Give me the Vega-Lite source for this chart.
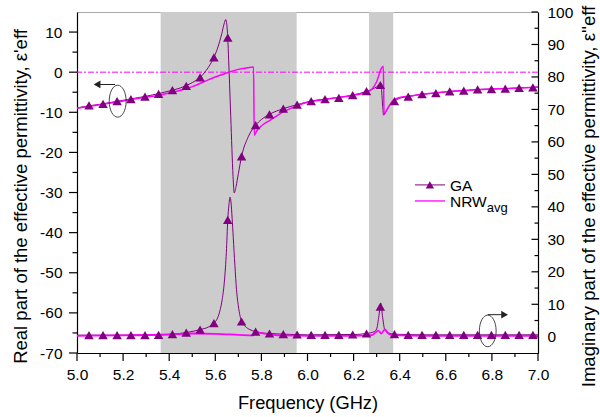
{
"$schema": "https://vega.github.io/schema/vega-lite/v6.json",
"width": 461, "height": 341,
"autosize": {"type": "none"},
"padding": {"left": 77, "top": 12, "right": 62, "bottom": 64},
"background": "white",
"config": {
 "font": "Liberation Sans",
 "view": {"stroke": "#aaaaaa", "strokeWidth": 1},
 "axis": {"labelFont": "Liberation Sans", "titleFont": "Liberation Sans", "labelColor": "black", "titleColor": "black", "domainColor": "black", "grid": false, "labelFontSize": 15.5, "titleFontSize": 18.5, "titleFontWeight": "normal", "domainWidth": 1.2, "labelOverlap": false, "labelFlush": false, "ticks": false}
},
"datasets": {
 "bands": [{"a": 5.363, "b": 5.953}, {"a": 6.267, "b": 6.372}],
 "xMajor": [{"t":5.0},{"t":5.2},{"t":5.4},{"t":5.6},{"t":5.8},{"t":6.0},{"t":6.2},{"t":6.4},{"t":6.6},{"t":6.8},{"t":7.0}],
 "xMinor": [{"t":5.1},{"t":5.3},{"t":5.5},{"t":5.7},{"t":5.9},{"t":6.1},{"t":6.3},{"t":6.5},{"t":6.7},{"t":6.9}],
 "lMajor": [{"t":-70},{"t":-60},{"t":-50},{"t":-40},{"t":-30},{"t":-20},{"t":-10},{"t":0},{"t":10}],
 "lMinor": [{"t":-65},{"t":-55},{"t":-45},{"t":-35},{"t":-25},{"t":-15},{"t":-5},{"t":5}],
 "rMajor": [{"t":0},{"t":10},{"t":20},{"t":30},{"t":40},{"t":50},{"t":60},{"t":70},{"t":80},{"t":90},{"t":100}],
 "rMinor": [{"t":5},{"t":15},{"t":25},{"t":35},{"t":45},{"t":55},{"t":65},{"t":75},{"t":85},{"t":95}],
 "gaReal": [{"f":5.0,"v":-8.9},{"f":5.05,"v":-8.4},{"f":5.1,"v":-8.0},{"f":5.15,"v":-7.5},{"f":5.2,"v":-7.0},{"f":5.25,"v":-6.5},{"f":5.3,"v":-6.0},{"f":5.35,"v":-5.4},{"f":5.4,"v":-4.7},{"f":5.45,"v":-3.9},{"f":5.5,"v":-2.6},{"f":5.534,"v":-1.3},{"f":5.56,"v":0.4},{"f":5.594,"v":3.7},{"f":5.61,"v":6.0},{"f":5.628,"v":9.6},{"f":5.638,"v":12.0},{"f":5.645,"v":13.1},{"f":5.65,"v":11.8},{"f":5.654,"v":8.6},{"f":5.658,"v":3.0},{"f":5.662,"v":-3.0},{"f":5.667,"v":-11.0},{"f":5.672,"v":-19.0},{"f":5.677,"v":-26.0},{"f":5.682,"v":-30.1},{"f":5.69,"v":-28.5},{"f":5.7,"v":-25.3},{"f":5.714,"v":-21.0},{"f":5.743,"v":-16.1},{"f":5.775,"v":-13.2},{"f":5.8,"v":-11.8},{"f":5.835,"v":-10.5},{"f":5.895,"v":-9.1},{"f":5.955,"v":-8.1},{"f":6.016,"v":-7.2},{"f":6.076,"v":-6.7},{"f":6.136,"v":-6.3},{"f":6.196,"v":-5.7},{"f":6.256,"v":-4.8},{"f":6.29,"v":-4.0},{"f":6.31,"v":-3.2},{"f":6.318,"v":-2.8},{"f":6.322,"v":-5.0},{"f":6.326,"v":-8.5},{"f":6.33,"v":-10.7},{"f":6.34,"v":-9.8},{"f":6.355,"v":-8.3},{"f":6.377,"v":-7.2},{"f":6.4,"v":-6.5},{"f":6.437,"v":-6.1},{"f":6.497,"v":-5.5},{"f":6.557,"v":-5.2},{"f":6.617,"v":-4.8},{"f":6.678,"v":-4.6},{"f":6.738,"v":-4.3},{"f":6.798,"v":-4.2},{"f":6.858,"v":-4.1},{"f":6.918,"v":-3.9},{"f":6.978,"v":-3.8},{"f":7.0,"v":-3.7}],
 "nrwReal": [{"f":5.0,"v":-9.0},{"f":5.1,"v":-8.1},{"f":5.2,"v":-7.2},{"f":5.3,"v":-6.2},{"f":5.35,"v":-5.8},{"f":5.4,"v":-5.2},{"f":5.45,"v":-4.5},{"f":5.5,"v":-3.6},{"f":5.55,"v":-2.4},{"f":5.6,"v":-1.2},{"f":5.65,"v":-0.2},{"f":5.7,"v":0.7},{"f":5.74,"v":1.1},{"f":5.766,"v":1.3},{"f":5.769,"v":-15.7},{"f":5.78,"v":-14.6},{"f":5.8,"v":-13.4},{"f":5.837,"v":-12.0},{"f":5.895,"v":-9.9},{"f":5.953,"v":-8.4},{"f":6.0,"v":-7.5},{"f":6.076,"v":-6.8},{"f":6.136,"v":-6.3},{"f":6.196,"v":-5.8},{"f":6.256,"v":-5.0},{"f":6.28,"v":-4.2},{"f":6.3,"v":-2.4},{"f":6.32,"v":0.9},{"f":6.329,"v":1.5},{"f":6.332,"v":-10.5},{"f":6.345,"v":-9.3},{"f":6.372,"v":-7.0},{"f":6.4,"v":-6.3},{"f":6.437,"v":-6.0},{"f":6.5,"v":-5.5},{"f":6.6,"v":-4.9},{"f":6.7,"v":-4.5},{"f":6.8,"v":-4.2},{"f":6.9,"v":-4.0},{"f":7.0,"v":-3.7}],
 "gaImag": [{"f":5.0,"v":0.5},{"f":5.2,"v":0.5},{"f":5.35,"v":0.6},{"f":5.414,"v":0.8},{"f":5.474,"v":1.3},{"f":5.534,"v":2.2},{"f":5.57,"v":3.0},{"f":5.594,"v":4.2},{"f":5.61,"v":5.8},{"f":5.62,"v":8.0},{"f":5.63,"v":11.5},{"f":5.64,"v":17.5},{"f":5.648,"v":26.0},{"f":5.654,"v":36.0},{"f":5.659,"v":40.5},{"f":5.664,"v":43.0},{"f":5.668,"v":41.5},{"f":5.673,"v":36.5},{"f":5.678,"v":30.5},{"f":5.685,"v":22.0},{"f":5.692,"v":14.5},{"f":5.7,"v":9.5},{"f":5.714,"v":4.7},{"f":5.73,"v":3.2},{"f":5.75,"v":2.2},{"f":5.775,"v":1.6},{"f":5.8,"v":1.2},{"f":5.835,"v":1.0},{"f":5.895,"v":0.8},{"f":6.0,"v":0.6},{"f":6.2,"v":0.7},{"f":6.256,"v":1.0},{"f":6.29,"v":1.6},{"f":6.3,"v":2.4},{"f":6.31,"v":6.5},{"f":6.318,"v":10.4},{"f":6.326,"v":6.0},{"f":6.335,"v":2.2},{"f":6.35,"v":1.2},{"f":6.377,"v":0.8},{"f":6.5,"v":0.6},{"f":7.0,"v":0.6}],
 "nrwImag": [{"f":5.0,"v":0.3},{"f":5.2,"v":0.4},{"f":5.4,"v":0.7},{"f":5.5,"v":1.0},{"f":5.6,"v":0.9},{"f":5.7,"v":0.6},{"f":5.766,"v":0.4},{"f":5.77,"v":1.5},{"f":5.8,"v":1.1},{"f":5.85,"v":0.6},{"f":5.9,"v":0.4},{"f":6.0,"v":0.3},{"f":6.2,"v":0.3},{"f":6.28,"v":0.5},{"f":6.307,"v":1.9},{"f":6.32,"v":1.0},{"f":6.336,"v":2.3},{"f":6.35,"v":1.0},{"f":6.37,"v":0.5},{"f":6.5,"v":0.3},{"f":7.0,"v":0.3}],
 "gaMarks": [{"f":5.052,"re":-8.3,"im":0.5},{"f":5.113,"re":-7.9,"im":0.5},{"f":5.174,"re":-7.2,"im":0.5},{"f":5.234,"re":-6.7,"im":0.5},{"f":5.295,"re":-6.1,"im":0.5},{"f":5.354,"re":-5.4,"im":0.6},{"f":5.414,"re":-4.5,"im":0.8},{"f":5.474,"re":-3.4,"im":1.3},{"f":5.534,"re":-1.3,"im":2.2},{"f":5.594,"re":3.7,"im":4.2},{"f":5.654,"re":8.6,"im":36.0},{"f":5.714,"re":-21.0,"im":4.7},{"f":5.775,"re":-13.2,"im":1.6},{"f":5.835,"re":-10.5,"im":1.0},{"f":5.895,"re":-9.1,"im":0.8},{"f":5.955,"re":-8.1,"im":0.7},{"f":6.016,"re":-7.2,"im":0.6},{"f":6.076,"re":-6.7,"im":0.6},{"f":6.136,"re":-6.4,"im":0.6},{"f":6.196,"re":-5.7,"im":0.7},{"f":6.256,"re":-4.7,"im":1.0},{"f":6.316,"re":-3.2,"im":9.3},{"f":6.377,"re":-7.2,"im":0.8},{"f":6.437,"re":-6.1,"im":0.6},{"f":6.497,"re":-5.5,"im":0.6},{"f":6.557,"re":-5.2,"im":0.6},{"f":6.617,"re":-4.8,"im":0.6},{"f":6.678,"re":-4.6,"im":0.6},{"f":6.738,"re":-4.3,"im":0.6},{"f":6.798,"re":-4.2,"im":0.6},{"f":6.858,"re":-4.1,"im":0.6},{"f":6.918,"re":-3.9,"im":0.6},{"f":6.978,"re":-3.8,"im":0.6}],
 "anchor": [{"f": 5.0, "v": -70, "w": -5}]
},
"layer": [
 {"layer": [
  {"data": {"name": "bands"}, "mark": {"type": "rect", "color": "#cccccc"},
   "encoding": {
    "x": {"field": "a", "type": "quantitative", "scale": {"domain": [5, 7], "nice": false, "zero": false},
     "axis": {"title": "Frequency (GHz)", "values": [5.0,5.2,5.4,5.6,5.8,6.0,6.2,6.4,6.6,6.8,7.0], "format": ".1f",
      "ticks": false, "labelPadding": 14, "titleY": 55, "titleBaseline": "alphabetic", "titleFontSize": 18.3, "labelOverlap": false}},
    "x2": {"field": "b"}}},
  {"data": {"values": [{"v": 0}]}, "mark": {"type": "rule", "color": "#ff00ff", "strokeWidth": 1, "strokeDash": [6, 2, 2, 2]},
   "encoding": {"y": {"field": "v", "type": "quantitative", "scale": {"domain": [-70, 15], "nice": false, "zero": false},
     "axis": {"title": "Real part of the effective permittivity, ε'eff", "values": [-70,-60,-50,-40,-30,-20,-10,0,10],
      "labelExpr": "''+datum.value", "ticks": false, "labelPadding": 15, "labelOverlap": false,
      "titleX": -57, "titleY": 184, "titleAngle": 270, "titleAlign": "center", "titleBaseline": "middle"}}}},
  {"data": {"name": "xMajor"}, "mark": {"type": "point", "shape": "stroke", "angle": 90, "filled": false, "color": "black", "strokeWidth": 1.2, "size": 64, "yOffset": 4, "opacity": 1},
   "encoding": {"x": {"field": "t", "type": "quantitative", "scale": {"domain": [5, 7], "nice": false, "zero": false}},
    "y": {"datum": -70, "type": "quantitative", "scale": {"domain": [-70, 15], "nice": false, "zero": false}}}},
  {"data": {"name": "xMinor"}, "mark": {"type": "point", "shape": "stroke", "angle": 90, "filled": false, "color": "black", "strokeWidth": 1.2, "size": 16, "yOffset": 2, "opacity": 1},
   "encoding": {"x": {"field": "t", "type": "quantitative", "scale": {"domain": [5, 7], "nice": false, "zero": false}},
    "y": {"datum": -70, "type": "quantitative", "scale": {"domain": [-70, 15], "nice": false, "zero": false}}}},
  {"data": {"name": "lMajor"}, "mark": {"type": "tick", "orient": "horizontal", "color": "black", "size": 8, "thickness": 1.2, "xOffset": -4, "opacity": 1},
   "encoding": {"y": {"field": "t", "type": "quantitative", "scale": {"domain": [-70, 15], "nice": false, "zero": false}},
    "x": {"datum": 5.0, "type": "quantitative", "scale": {"domain": [5, 7], "nice": false, "zero": false}}}},
  {"data": {"name": "lMinor"}, "mark": {"type": "tick", "orient": "horizontal", "color": "black", "size": 4.5, "thickness": 1.2, "xOffset": -2.25, "opacity": 1},
   "encoding": {"y": {"field": "t", "type": "quantitative", "scale": {"domain": [-70, 15], "nice": false, "zero": false}},
    "x": {"datum": 5.0, "type": "quantitative", "scale": {"domain": [5, 7], "nice": false, "zero": false}}}},
  {"data": {"name": "gaReal"}, "mark": {"type": "line", "color": "#800080", "strokeWidth": 1, "interpolate": "monotone"},
   "encoding": {"x": {"field": "f", "type": "quantitative", "scale": {"domain": [5, 7], "nice": false, "zero": false}},
    "y": {"field": "v", "type": "quantitative", "scale": {"domain": [-70, 15], "nice": false, "zero": false}}}},
  {"data": {"name": "nrwReal"}, "mark": {"type": "line", "color": "#ff00ff", "strokeWidth": 1.5, "interpolate": "monotone"},
   "encoding": {"x": {"field": "f", "type": "quantitative", "scale": {"domain": [5, 7], "nice": false, "zero": false}},
    "y": {"field": "v", "type": "quantitative", "scale": {"domain": [-70, 15], "nice": false, "zero": false}}}},
  {"data": {"name": "gaMarks"}, "mark": {"type": "point", "shape": "triangle-up", "filled": true, "color": "#800080", "opacity": 1, "size": 90},
   "encoding": {"x": {"field": "f", "type": "quantitative", "scale": {"domain": [5, 7], "nice": false, "zero": false}},
    "y": {"field": "re", "type": "quantitative", "scale": {"domain": [-70, 15], "nice": false, "zero": false}}}},
  {"data": {"values": [{"f": 5.1765, "v": -7.23}]}, "mark": {"type": "point", "shape": "M0,-1A0.53,1,0,1,1,0,1A0.53,1,0,1,1,0,-1Z", "filled": false, "stroke": "#333333", "strokeWidth": 0.9, "opacity": 1, "size": 1024},
   "encoding": {"x": {"field": "f", "type": "quantitative", "scale": {"domain": [5, 7], "nice": false, "zero": false}},
    "y": {"field": "v", "type": "quantitative", "scale": {"domain": [-70, 15], "nice": false, "zero": false}}}},
  {"data": {"values": [{"f1": 5.165, "f2": 5.09, "v": -3.07}]}, "mark": {"type": "rule", "color": "#222222", "strokeWidth": 1},
   "encoding": {"x": {"field": "f1", "type": "quantitative", "scale": {"domain": [5, 7], "nice": false, "zero": false}}, "x2": {"field": "f2"},
    "y": {"field": "v", "type": "quantitative", "scale": {"domain": [-70, 15], "nice": false, "zero": false}}}},
  {"data": {"values": [{"f": 5.087, "v": -3.07}]}, "mark": {"type": "point", "shape": "triangle-left", "filled": true, "color": "#222222", "opacity": 1, "size": 60},
   "encoding": {"x": {"field": "f", "type": "quantitative", "scale": {"domain": [5, 7], "nice": false, "zero": false}},
    "y": {"field": "v", "type": "quantitative", "scale": {"domain": [-70, 15], "nice": false, "zero": false}}}},
  {"data": {"values": [{"f1": 6.466, "f2": 6.597, "v": -28.1}]}, "mark": {"type": "rule", "color": "#800080", "strokeWidth": 1},
   "encoding": {"x": {"field": "f1", "type": "quantitative", "scale": {"domain": [5, 7], "nice": false, "zero": false}}, "x2": {"field": "f2"},
    "y": {"field": "v", "type": "quantitative", "scale": {"domain": [-70, 15], "nice": false, "zero": false}}}},
  {"data": {"values": [{"f1": 6.466, "f2": 6.597, "v": -32.1}]}, "mark": {"type": "rule", "color": "#ff00ff", "strokeWidth": 1.3},
   "encoding": {"x": {"field": "f1", "type": "quantitative", "scale": {"domain": [5, 7], "nice": false, "zero": false}}, "x2": {"field": "f2"},
    "y": {"field": "v", "type": "quantitative", "scale": {"domain": [-70, 15], "nice": false, "zero": false}}}},
  {"data": {"values": [{"f": 6.531, "v": -28.1}]}, "mark": {"type": "point", "shape": "triangle-up", "filled": true, "color": "#800080", "opacity": 1, "size": 70},
   "encoding": {"x": {"field": "f", "type": "quantitative", "scale": {"domain": [5, 7], "nice": false, "zero": false}},
    "y": {"field": "v", "type": "quantitative", "scale": {"domain": [-70, 15], "nice": false, "zero": false}}}},
  {"data": {"values": [{"t": "GA", "f": 6.618, "v": -29.5}, {"t": "NRW", "f": 6.618, "v": -33.5}]}, "mark": {"type": "text", "align": "left", "baseline": "alphabetic", "fontSize": 15.5, "font": "Liberation Sans", "color": "black"},
   "encoding": {"x": {"field": "f", "type": "quantitative", "scale": {"domain": [5, 7], "nice": false, "zero": false}},
    "y": {"field": "v", "type": "quantitative", "scale": {"domain": [-70, 15], "nice": false, "zero": false}}, "text": {"field": "t"}}},
  {"data": {"values": [{"t": "avg", "f": 6.778, "v": -34.8}]}, "mark": {"type": "text", "align": "left", "baseline": "alphabetic", "fontSize": 13, "font": "Liberation Sans", "color": "black"},
   "encoding": {"x": {"field": "f", "type": "quantitative", "scale": {"domain": [5, 7], "nice": false, "zero": false}},
    "y": {"field": "v", "type": "quantitative", "scale": {"domain": [-70, 15], "nice": false, "zero": false}}, "text": {"field": "t"}}}
 ]},
 {"layer": [
  {"data": {"name": "gaImag"}, "mark": {"type": "line", "color": "#800080", "strokeWidth": 1, "interpolate": "monotone"},
   "encoding": {"x": {"field": "f", "type": "quantitative", "scale": {"domain": [5, 7], "nice": false, "zero": false}, "axis": null},
    "y": {"field": "v", "type": "quantitative", "scale": {"domain": [-5, 100], "nice": false, "zero": false},
     "axis": {"orient": "right", "title": "Imaginary part of the effective permittivity, ε''eff", "values": [0,20,40,60,80,100],
      "labelExpr": "''+datum.value", "ticks": false, "labelPadding": 9, "labelOverlap": false,
      "titleX": 50, "titleY": 184, "titleAngle": 270, "titleAlign": "center", "titleBaseline": "middle"}}}},
  {"data": {"name": "rMajor"}, "mark": {"type": "tick", "orient": "horizontal", "color": "black", "size": 6.5, "thickness": 1.2, "xOffset": -3.25, "opacity": 1},
   "encoding": {"y": {"field": "t", "type": "quantitative", "scale": {"domain": [-5, 100], "nice": false, "zero": false}},
    "x": {"datum": 7.0, "type": "quantitative", "scale": {"domain": [5, 7], "nice": false, "zero": false}}}},
  {"data": {"name": "rMinor"}, "mark": {"type": "tick", "orient": "horizontal", "color": "black", "size": 3.5, "thickness": 1.2, "xOffset": -1.75, "opacity": 1},
   "encoding": {"y": {"field": "t", "type": "quantitative", "scale": {"domain": [-5, 100], "nice": false, "zero": false}},
    "x": {"datum": 7.0, "type": "quantitative", "scale": {"domain": [5, 7], "nice": false, "zero": false}}}},
  {"data": {"name": "nrwImag"}, "mark": {"type": "line", "color": "#ff00ff", "strokeWidth": 1.8, "interpolate": "monotone"},
   "encoding": {"x": {"field": "f", "type": "quantitative", "scale": {"domain": [5, 7], "nice": false, "zero": false}},
    "y": {"field": "v", "type": "quantitative", "scale": {"domain": [-5, 100], "nice": false, "zero": false}}}},
  {"data": {"name": "gaMarks"}, "mark": {"type": "point", "shape": "triangle-up", "filled": true, "color": "#800080", "opacity": 1, "size": 90},
   "encoding": {"x": {"field": "f", "type": "quantitative", "scale": {"domain": [5, 7], "nice": false, "zero": false}},
    "y": {"field": "im", "type": "quantitative", "scale": {"domain": [-5, 100], "nice": false, "zero": false}}}},
  {"data": {"values": [{"f": 6.782, "v": 1.8}]}, "mark": {"type": "point", "shape": "M0,-1A0.53,1,0,1,1,0,1A0.53,1,0,1,1,0,-1Z", "filled": false, "stroke": "#333333", "strokeWidth": 0.9, "opacity": 1, "size": 1000},
   "encoding": {"x": {"field": "f", "type": "quantitative", "scale": {"domain": [5, 7], "nice": false, "zero": false}},
    "y": {"field": "v", "type": "quantitative", "scale": {"domain": [-5, 100], "nice": false, "zero": false}}}},
  {"data": {"values": [{"f1": 6.782, "f2": 6.85, "v": 6.8}]}, "mark": {"type": "rule", "color": "#222222", "strokeWidth": 1},
   "encoding": {"x": {"field": "f1", "type": "quantitative", "scale": {"domain": [5, 7], "nice": false, "zero": false}}, "x2": {"field": "f2"},
    "y": {"field": "v", "type": "quantitative", "scale": {"domain": [-5, 100], "nice": false, "zero": false}}}},
  {"data": {"values": [{"f": 6.855, "v": 6.8}]}, "mark": {"type": "point", "shape": "triangle-right", "filled": true, "color": "#222222", "opacity": 1, "size": 60},
   "encoding": {"x": {"field": "f", "type": "quantitative", "scale": {"domain": [5, 7], "nice": false, "zero": false}},
    "y": {"field": "v", "type": "quantitative", "scale": {"domain": [-5, 100], "nice": false, "zero": false}}}}
 ]},
 {"data": {"name": "anchor"}, "mark": {"type": "point", "opacity": 0},
  "encoding": {
   "x": {"field": "f", "type": "quantitative", "scale": {"domain": [5, 7], "nice": false, "zero": false}, "axis": null},
   "y": {"field": "w", "type": "quantitative", "scale": {"domain": [-5, 100], "nice": false, "zero": false},
    "axis": {"orient": "right", "title": null, "values": [10,30,50,70,90], "labelExpr": "''+datum.value", "labelOverlap": false, "labelPadding": 9, "domain": false, "ticks": false}}}}
],
"resolve": {"scale": {"y": "independent"}, "axis": {"x": "independent"}}
}
